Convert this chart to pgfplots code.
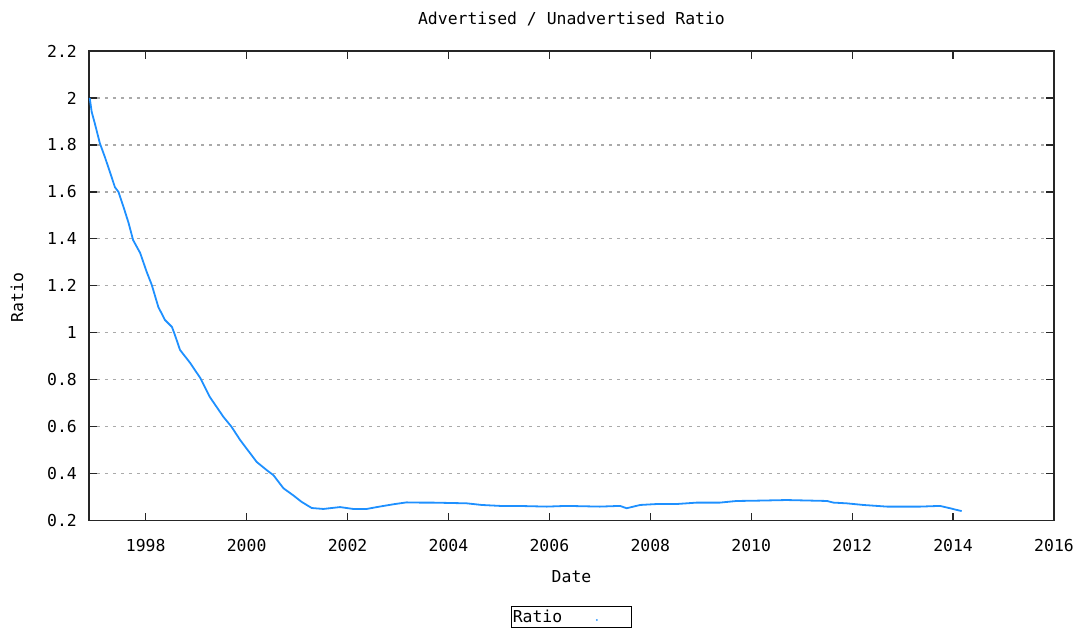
\documentclass[border=0pt]{standalone}
\usepackage{fontspec}
\setmainfont{DejaVu Sans Mono}
\usepackage{pgfplots}
\pgfplotsset{compat=1.18}
\usetikzlibrary{calc}

\definecolor{ratioblue}{RGB}{30,144,255}
\definecolor{gridgray}{RGB}{170,170,170}

\pgfplotstableread{
date ratio
1996.89 2.000
1996.93 1.940
1996.99 1.893
1997.09 1.808
1997.19 1.749
1997.29 1.685
1997.39 1.620
1997.46 1.600
1997.56 1.536
1997.66 1.468
1997.75 1.395
1997.89 1.340
1998.02 1.259
1998.12 1.204
1998.25 1.110
1998.38 1.055
1998.52 1.025
1998.58 0.990
1998.68 0.927
1998.88 0.872
1999.08 0.808
1999.27 0.727
1999.54 0.642
1999.70 0.600
1999.87 0.544
2000.07 0.487
2000.20 0.450
2000.40 0.415
2000.53 0.394
2000.73 0.338
2000.93 0.307
2001.09 0.280
2001.29 0.254
2001.52 0.250
2001.85 0.258
2002.11 0.250
2002.38 0.250
2002.58 0.258
2002.91 0.270
2003.04 0.274
2003.17 0.278
2003.44 0.277
2003.69 0.277
2004.36 0.274
2004.66 0.267
2005.02 0.263
2005.35 0.263
2005.95 0.260
2006.34 0.263
2007.00 0.260
2007.40 0.263
2007.53 0.253
2007.80 0.267
2008.13 0.271
2008.52 0.271
2008.92 0.277
2009.38 0.277
2009.71 0.284
2010.04 0.285
2010.70 0.288
2011.50 0.284
2011.63 0.277
2011.89 0.274
2012.22 0.267
2012.69 0.260
2013.35 0.260
2013.74 0.263
2013.94 0.253
2014.07 0.246
2014.17 0.241
}\ratiodata

\begin{document}
\fontsize{16.5}{19}\selectfont
\begin{tikzpicture}
\begin{axis}[
    scale only axis,
    width=965bp, height=469.7bp,
    xmin=1996.876, xmax=2016,
    ymin=0.2, ymax=2.2,
    xtick={1998,2000,...,2016},
    ytick={0.2,0.4,...,2.2},
    /pgf/number format/1000 sep={},
    /pgf/number format/assume math mode=true,
    axis line style={line width=1.2bp, black!85},
    tick style={line width=1.2bp, black!85},
    major tick length=8bp,
    tick align=inside,
    ymajorgrids=true,
    grid style={gridgray, line width=1.2bp, dash pattern=on 3bp off 5bp},
    yticklabel style={anchor=east, inner sep=0pt, xshift=-12bp},
    xticklabel style={anchor=base, inner sep=0pt, yshift=-30.3bp},
    title={Advertised / Unadvertised Ratio},
    title style={at={(axis description cs:0.5,1)}, anchor=base, yshift=21bp, inner sep=0pt},
    xlabel={Date},
    xlabel style={at={(axis description cs:0.5,0)}, anchor=base, yshift=-62bp, inner sep=0pt},
    ylabel={Ratio},
    ylabel style={at={(axis description cs:-0.0746,0.4745)}, anchor=center, inner sep=0pt},
    legend plot pos=right,
    legend style={at={(axis description cs:0.5,0)}, anchor=center, yshift=-96.3bp,
        draw=black, line width=1.2bp, inner sep=0pt,
        nodes={inner xsep=1bp, inner ysep=3bp, anchor=base west},
        font=\fontsize{16.5}{19}\selectfont},
    legend image code/.code={
        \path[draw=none, fill=none] (0bp,-4bp) rectangle (68bp,8bp);
        \fill[ratioblue, draw=none] (33.7bp,2bp) circle (1bp);
    },
]
\addplot[ratioblue, line width=1.8bp, line join=round] table[x=date, y=ratio] {\ratiodata};
\addlegendentry{Ratio}
\coordinate (bbsw) at (rel axis cs:0,0);
\coordinate (bbne) at (rel axis cs:1,1);
\end{axis}
\pgfresetboundingbox
\path[use as bounding box] ($(bbsw)+(-89bp,-109.3bp)$) rectangle ($(bbne)+(31bp,51bp)$);
\end{tikzpicture}
\end{document}
